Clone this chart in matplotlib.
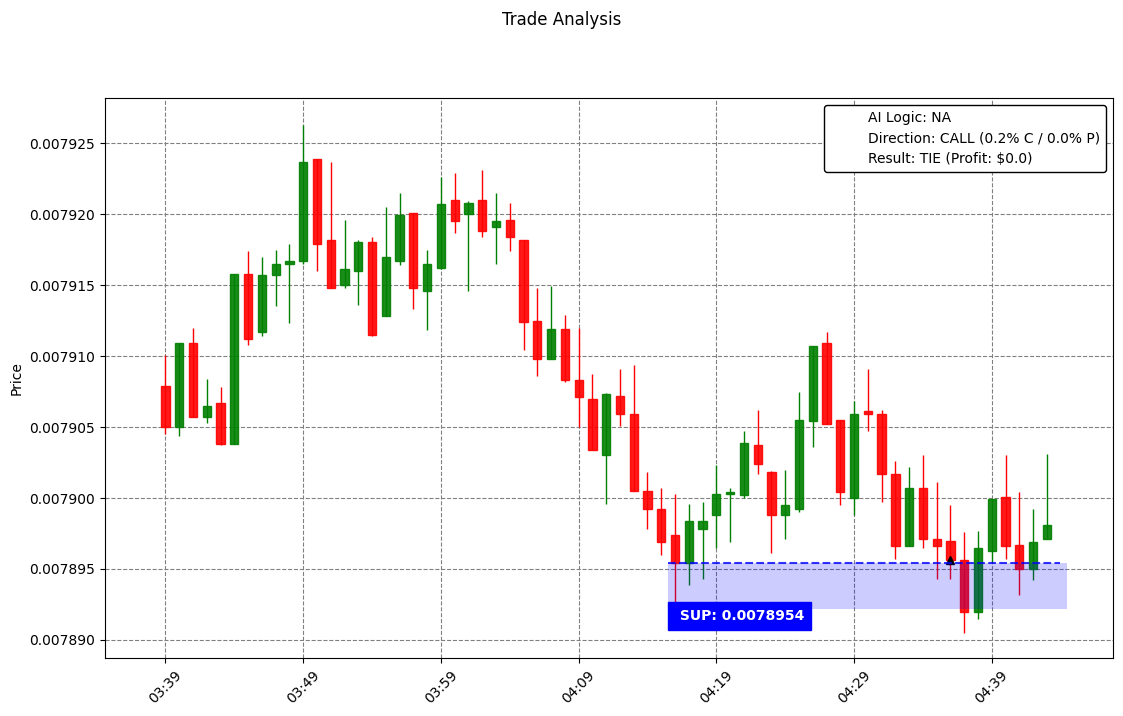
import matplotlib
matplotlib.use('Agg')
import matplotlib.pyplot as plt
import matplotlib.dates as mdates
from matplotlib.lines import Line2D
from matplotlib.ticker import FormatStrFormatter
from datetime import datetime, timedelta

start = datetime(2024, 1, 1, 3, 39)

opens = [7907.9, 7905.0, 7910.9, 7905.7, 7906.7, 7903.8, 7915.8, 7911.7, 7915.7, 7916.5,
         7916.7, 7923.9, 7918.2, 7915.0, 7916.0, 7918.0, 7912.8, 7916.7, 7920.1, 7914.6,
         7916.2, 7921.0, 7920.0, 7921.0, 7919.1, 7919.6, 7918.2, 7912.5, 7909.8, 7911.9,
         7908.3, 7907.0, 7903.0, 7907.2, 7905.9, 7900.5, 7899.2, 7897.4, 7895.4, 7897.8,
         7898.8, 7900.3, 7900.2, 7903.7, 7901.8, 7898.8, 7899.2, 7905.4, 7910.9, 7905.5,
         7900.0, 7906.1, 7905.9, 7901.7, 7896.6, 7900.7, 7897.1, 7897.0, 7895.6, 7892.0,
         7896.3, 7900.1, 7896.7, 7895.0, 7897.1]
highs = [7910.1, 7910.9, 7912.0, 7908.4, 7907.8, 7915.8, 7917.4, 7917.0, 7917.5, 7917.9,
         7926.3, 7923.9, 7923.7, 7919.6, 7918.2, 7918.4, 7920.5, 7921.5, 7920.1, 7917.5,
         7922.6, 7922.9, 7920.9, 7923.1, 7921.5, 7920.8, 7918.2, 7914.8, 7914.9, 7912.9,
         7912.0, 7908.7, 7907.4, 7909.1, 7909.4, 7901.8, 7900.7, 7900.3, 7899.6, 7899.7,
         7902.3, 7900.7, 7904.7, 7906.2, 7901.9, 7902.0, 7907.5, 7910.7, 7911.7, 7905.5,
         7906.8, 7909.1, 7906.2, 7902.6, 7902.2, 7903.0, 7901.1, 7899.5, 7897.6, 7897.7,
         7899.9, 7903.0, 7900.4, 7899.2, 7903.1]
lows = [7904.5, 7904.4, 7905.7, 7905.3, 7903.7, 7903.8, 7910.8, 7911.4, 7913.5, 7912.3,
        7916.5, 7916.0, 7914.8, 7914.8, 7913.6, 7911.4, 7912.8, 7916.4, 7913.3, 7911.8,
        7916.1, 7918.7, 7914.6, 7918.4, 7916.5, 7917.4, 7910.4, 7908.6, 7909.8, 7908.2,
        7905.0, 7903.4, 7899.6, 7905.1, 7900.5, 7897.8, 7896.0, 7892.6, 7893.9, 7894.3,
        7896.5, 7896.9, 7900.0, 7901.7, 7896.1, 7897.1, 7899.0, 7903.6, 7905.2, 7899.5,
        7898.8, 7904.7, 7899.7, 7895.7, 7896.6, 7896.5, 7894.3, 7894.3, 7890.5, 7891.5,
        7895.4, 7895.7, 7893.2, 7894.2, 7897.1]
closes = [7905.0, 7910.9, 7905.7, 7906.5, 7903.8, 7915.8, 7911.2, 7915.7, 7916.5, 7916.7,
          7923.7, 7917.9, 7914.8, 7916.1, 7918.0, 7911.5, 7917.0, 7919.9, 7914.8, 7916.5,
          7920.7, 7919.5, 7920.8, 7918.8, 7919.5, 7918.4, 7912.4, 7909.8, 7911.9, 7908.3,
          7907.1, 7903.4, 7907.3, 7905.9, 7900.5, 7899.2, 7896.9, 7895.4, 7898.4, 7898.4,
          7900.3, 7900.4, 7903.9, 7902.4, 7898.8, 7899.5, 7905.5, 7910.7, 7905.2, 7900.4,
          7905.9, 7905.9, 7901.7, 7896.6, 7900.7, 7897.1, 7896.6, 7895.6, 7892.0, 7896.5,
          7899.9, 7896.6, 7895.0, 7896.9, 7898.1]

# prices above are in millionths
opens = [v * 1e-6 for v in opens]
highs = [v * 1e-6 for v in highs]
lows = [v * 1e-6 for v in lows]
closes = [v * 1e-6 for v in closes]

times = [start + timedelta(minutes=i) for i in range(len(opens))]
x = mdates.date2num(times)

support = 0.0078954
zone_low = 0.0078922
zone_start = datetime(2024, 1, 1, 4, 15, 30)
zone_end = datetime(2024, 1, 1, 4, 44, 28)
entry_time = datetime(2024, 1, 1, 4, 36)
entry_price = 0.0078956

info_lines = ["AI Logic: NA",
              "Direction: CALL (0.2% C / 0.0% P)",
              "Result: TIE (Profit: $0.0)"]

fig = plt.figure(figsize=(11.23, 7.16), dpi=100)
ax = fig.add_axes([0.0935, 0.081, 0.8976, 0.782])

minute = 1 / 1440.0
width = 0.6 * minute
for xi, o, h, l, c in zip(x, opens, highs, lows, closes):
    col = 'green' if c >= o else 'red'
    ax.vlines(xi, l, h, color=col, linewidth=1, zorder=2)
    ax.bar(xi, abs(c - o), width=width, bottom=min(o, c), color=col,
           edgecolor=col, alpha=0.9, linewidth=1, zorder=3)

ax.plot(mdates.date2num(entry_time), entry_price, marker='^', color='black',
        markersize=6, zorder=4)
ax.hlines(support, mdates.date2num(zone_start), mdates.date2num(zone_end) - 0.5 * minute,
          colors='blue', linestyles='--', linewidth=1.5, alpha=0.8, zorder=5)
ax.fill_between([mdates.date2num(zone_start), mdates.date2num(zone_end)],
                zone_low, support, color='blue', alpha=0.2, linewidth=0, zorder=5)
ax.text(mdates.date2num(datetime(2024, 1, 1, 4, 16)), 0.0078917, " SUP: 0.0078954",
        color='white', fontsize=10, fontweight='bold', va='center', ha='left',
        bbox=dict(facecolor='blue', edgecolor='blue', boxstyle='square,pad=0.5'), zorder=6)

handles = [Line2D([], [], color='none', label=t) for t in info_lines]
leg = ax.legend(handles=handles, loc='upper right', framealpha=1, edgecolor='black')

ax.set_xlim(x[0] - 4.39 * minute, x[0] + 68.8 * minute)
ax.set_ylim(0.00788873, 0.00792817)
ax.set_xticks(x[::10])
ax.xaxis.set_major_formatter(mdates.DateFormatter('%H:%M'))
plt.setp(ax.get_xticklabels(), rotation=45)
ax.yaxis.set_major_formatter(FormatStrFormatter('%.6f'))
ax.set_ylabel('Price')
ax.grid(True, linestyle='--', color='gray', alpha=1.0, linewidth=0.8)
ax.set_axisbelow(True)
fig.suptitle('Trade Analysis', fontsize=12, y=0.985)

fig.savefig('out.png', dpi=100)
